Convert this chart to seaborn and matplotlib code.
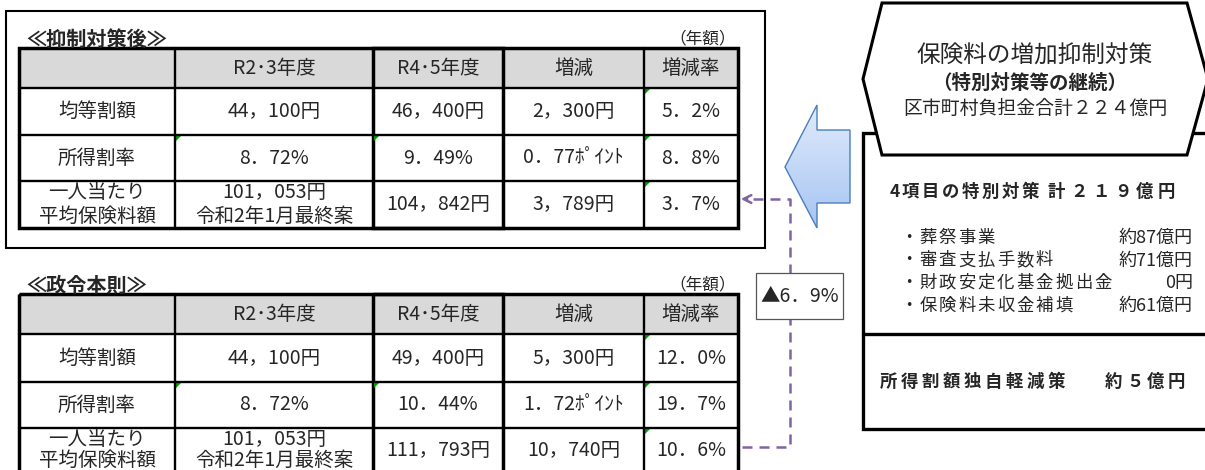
import numpy as np
import seaborn as sns
import matplotlib.pyplot as plt
from matplotlib.patches import Rectangle, Polygon
from matplotlib.colors import LinearSegmentedColormap

# ========== table contents ==========
col_headers = ["", "R2･3年度", "R4･5年度", "増減", "増減率"]
row_labels = ["均等割額", "所得割率", "一人当たり\n平均保険料額"]
r23_values = ["44，100円", "8．72%", "101，053円\n令和2年1月最終案"]

after_r45 = ["46，400円", "9．49%", "104，842円"]
after_diff = ["2，300円", "0．77ﾎﾟｲﾝﾄ", "3，789円"]
after_rate = ["5．2%", "8．8%", "3．7%"]

base_r45 = ["49，400円", "10．44%", "111，793円"]
base_diff = ["5，300円", "1．72ﾎﾟｲﾝﾄ", "10，740円"]
base_rate = ["12．0%", "19．7%", "10．6%"]

gap_label = "▲6．9%"

measure_title = ["保険料の増加抑制対策", "（特別対策等の継続）", "区市町村負担金合計２２４億円"]
special_head = ["4項目の特別対策", "計２１９億円"]
special_items = ["・葬祭事業", "・審査支払手数料", "・財政安定化基金拠出金", "・保険料未収金補填"]
special_amounts = ["約87億円", "約71億円", "0円", "約61億円"]
own_measure = ["所得割額独自軽減策", "約５億円"]

# ========== style ==========
sns.set_theme(style="white")
plt.rcParams['font.family'] = ['Noto Sans CJK JP', 'DejaVu Sans']

fig = plt.figure(figsize=(12.05, 4.70), dpi=100)
ax = fig.add_axes([0, 0, 1, 1])
ax.axis("off")

col_x = [19, 175, 373, 503, 644, 738]
purple = "#8064a2"
fs = 14


def spaced(x, y, s, pitch, **kw):
    # place characters one by one to mimic letter spacing
    for ch in s:
        ax.text(x, y, ch, ha="left", va="center", **kw)
        x += pitch * (0.6 if ord(ch) < 256 else 1.0)


def draw_table(rows_y, title, r45, diff, rate, line_gap):
    left, right = col_x[0], col_x[-1]
    ax.add_patch(Rectangle((left, rows_y[0]), right - left, rows_y[1] - rows_y[0],
                           fc="#d9d9d9", ec="none"))
    for y in rows_y[1:-1]:
        ax.plot([left, right], [y, y], color="black", lw=1.7)
    for x in [col_x[1], col_x[4]]:
        ax.plot([x, x], [rows_y[0], rows_y[-1]], color="black", lw=1.7)
    ax.add_patch(Rectangle((left, rows_y[0]), right - left, rows_y[-1] - rows_y[0],
                           fc="none", ec="black", lw=2.5))
    ax.add_patch(Rectangle((col_x[2], rows_y[0]), col_x[3] - col_x[2], rows_y[-1] - rows_y[0],
                           fc="none", ec="black", lw=2.5))
    ax.text(26, rows_y[0] - 9, title, ha="left", va="center", fontsize=14.5, fontweight="bold")
    ax.text(736, rows_y[0] - 9, "（年額）", ha="right", va="center", fontsize=12)
    cx = [(col_x[i] + col_x[i + 1]) / 2 for i in range(5)]
    cy = [(rows_y[i] + rows_y[i + 1]) / 2 for i in range(4)]
    for i, h in enumerate(col_headers):
        ax.text(cx[i], cy[0], h, ha="center", va="center", fontsize=fs)
    columns = [row_labels, r23_values, r45, diff, rate]
    for j, col in enumerate(columns):
        for i, v in enumerate(col):
            lines = v.split("\n")
            offs = np.arange(len(lines)) * line_gap
            offs = offs - offs.mean()
            for line, off in zip(lines, offs):
                ax.text(cx[j], cy[i + 1] + off, line, ha="center", va="center", fontsize=fs)
    # little green markers in cell corners
    marks = [(col_x[1], rows_y[2]), (col_x[2], rows_y[2]),
             (col_x[4], rows_y[1]), (col_x[4], rows_y[2]), (col_x[4], rows_y[3])]
    for mx, my in marks:
        ax.add_patch(Polygon([(mx + 1, my + 1), (mx + 6, my + 1), (mx + 1, my + 6)],
                             fc="#00a000", ec="none"))


# outer frame of the upper table
ax.add_patch(Rectangle((6, 11), 759, 237, fc="none", ec="black", lw=1.5))
draw_table([48, 88, 135, 181, 228], "≪抑制対策後≫", after_r45, after_diff, after_rate, 24)
draw_table([294, 334, 382, 428, 472], "≪政令本則≫", base_r45, base_diff, base_rate, 21)

# dashed connector with arrow
ax.plot([742, 790, 790, 745], [447, 447, 199, 199], color=purple, lw=1.8, dashes=(4, 2.8))
ax.annotate("", xy=(738, 199), xytext=(750, 199),
            arrowprops=dict(arrowstyle="->", color=purple, lw=1.8, mutation_scale=14))

# gap box
ax.add_patch(Rectangle((756, 273), 87, 46, fc="white", ec="#555555", lw=0.9, zorder=5))
ax.text(799.5, 296, gap_label, ha="center", va="center", fontsize=fs, zorder=6)

# blue block arrow with gradient
arrow_pts = [(785, 167), (817, 105), (817, 130), (850, 130), (850, 203), (817, 203), (817, 228)]
arrow = Polygon(arrow_pts, closed=True, fc="none", ec="#4a7ebb", lw=1.0, zorder=3)
ax.add_patch(arrow)
grad = np.linspace(0, 1, 100).reshape(-1, 1)
cmap = LinearSegmentedColormap.from_list("blue_grad", ["#e0ebfc", "#a6c4f2"])
im = ax.imshow(grad, extent=[785, 850, 228, 105], cmap=cmap, aspect="auto", zorder=2)
im.set_clip_path(arrow)

# right side box with the special measures
ax.add_patch(Rectangle((863, 133), 360, 296, fc="white", ec="black", lw=2.4))
ax.plot([863, 1223], [334, 334], color="black", lw=2.4)
hexagon = [(863, 79), (882, 3), (1187, 3), (1208, 79), (1187, 155), (882, 155)]
ax.add_patch(Polygon(hexagon, closed=True, fc="white", ec="black", lw=2.2, zorder=4))
ax.text(1035, 56, measure_title[0], ha="center", va="center", fontsize=17, zorder=5)
ax.text(1030, 83, measure_title[1], ha="center", va="center", fontsize=14,
        fontweight="bold", zorder=5)
ax.text(1035, 108, measure_title[2], ha="center", va="center", fontsize=13.6, zorder=5)

spaced(890, 192, special_head[0], 20, fontsize=12.5, fontweight="bold")
spaced(1048, 192, special_head[1], 22, fontsize=12.5, fontweight="bold")
for k, (item, amt) in enumerate(zip(special_items, special_amounts)):
    y = 238 + k * 22.5
    spaced(900, y, item, 19.4, fontsize=12.5)
    ax.text(1193, y, amt, ha="right", va="center", fontsize=13)
spaced(880, 382, own_measure[0], 20.9, fontsize=12.5, fontweight="bold")
spaced(1105, 382, own_measure[1], 21, fontsize=12.5, fontweight="bold")

ax.set_xlim(0, 1205)
ax.set_ylim(470, 0)
fig.savefig("out.png", dpi=100)
